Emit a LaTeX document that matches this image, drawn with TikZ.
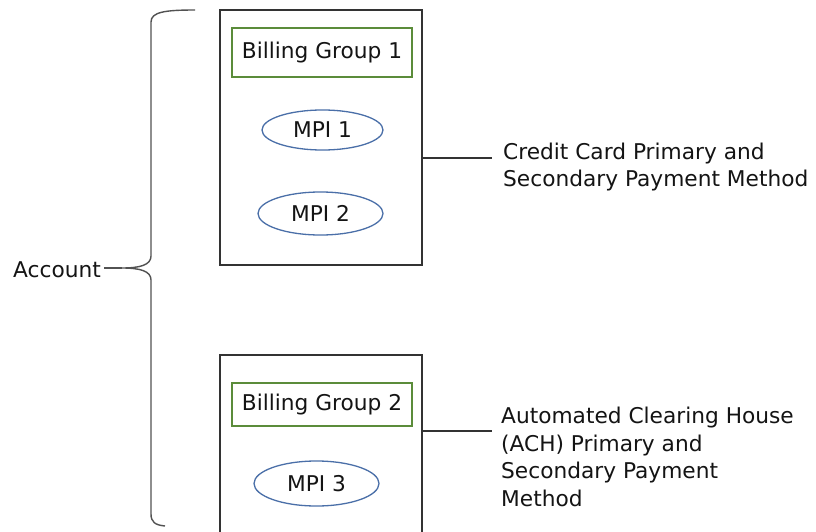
\documentclass[tikz,border=0pt]{standalone}
\usepackage{fontspec}
\setmainfont{DejaVu Sans}
\usetikzlibrary{shapes.geometric}
\definecolor{ink}{HTML}{141414}
\definecolor{frame}{HTML}{333333}
\definecolor{groupgreen}{HTML}{5B8C3A}
\definecolor{mpiblue}{HTML}{4A6FA8}
\tikzset{
  txt/.style={font=\fontsize{21.7}{27.8}\selectfont, text=ink, inner sep=0pt},
  holder/.style={draw=frame, line width=1.3pt, rectangle, inner sep=0pt},
  groupbox/.style={draw=groupgreen, line width=2pt, rectangle, inner sep=0pt, txt},
  mpi/.style={draw=mpiblue, line width=1.3pt, ellipse, inner sep=0pt, txt},
  wire/.style={draw=frame, line width=1.3pt},
  brace/.style={draw=frame!85, line width=1.4pt}
}
\begin{document}
\begin{tikzpicture}[x=1pt, y=-1pt]
  \useasboundingbox (0,0) rectangle (816,532);
  \fill[white] (0,0) rectangle (816,532);

  % two containers, one per billing group
  \node[holder, minimum width=202pt, minimum height=255pt] (box1) at (321,137.5) {};
  \node[holder, minimum width=202pt, minimum height=190pt] (box2) at (321,450) {};

  % billing groups
  \node[groupbox, minimum width=180pt, minimum height=49pt] (bg1) at (322,52.5) {Billing Group 1};
  \node[groupbox, minimum width=180pt, minimum height=43pt] (bg2) at (322,404.5) {Billing Group 2};

  % payment method instances
  \node[mpi, minimum width=121pt, minimum height=40pt] (mpi1) at (322.5,130) {MPI 1};
  \node[mpi, minimum width=125pt, minimum height=43pt] (mpi2) at (320.5,213.5) {MPI 2};
  \node[mpi, minimum width=125pt, minimum height=45pt] (mpi3) at (316.5,483.5) {MPI 3};

  % payment method descriptions
  \node[txt, anchor=west, align=left] (pm1) at (503,167) {Credit Card Primary and\\Secondary Payment Method};
  \node[txt, anchor=west, align=left] (pm2) at (501,457) {Automated Clearing House\\(ACH) Primary and\\Secondary Payment\\Method};

  \coordinate (w1) at (492,158);
  \coordinate (w2) at (492,431);
  \draw[wire] (w1 -| box1.east) -- (w1);
  \draw[wire] (w2 -| box2.east) -- (w2);

  % account label and brace
  \node[txt, anchor=west] (acct) at (13,270) {Account};
  \coordinate (tip) at (122,268);
  \draw[brace] ([xshift=3pt]acct.east |- tip) -- (tip);
  \draw[brace] (195,10) .. controls (165,10) and (151,12) .. (151,22)
    -- (151,256) .. controls (151,265) and (140,268) .. (tip)
    .. controls (140,268) and (151,271) .. (151,280)
    -- (151,514) .. controls (151,522) and (155,525) .. (165,526);
\end{tikzpicture}
\end{document}
